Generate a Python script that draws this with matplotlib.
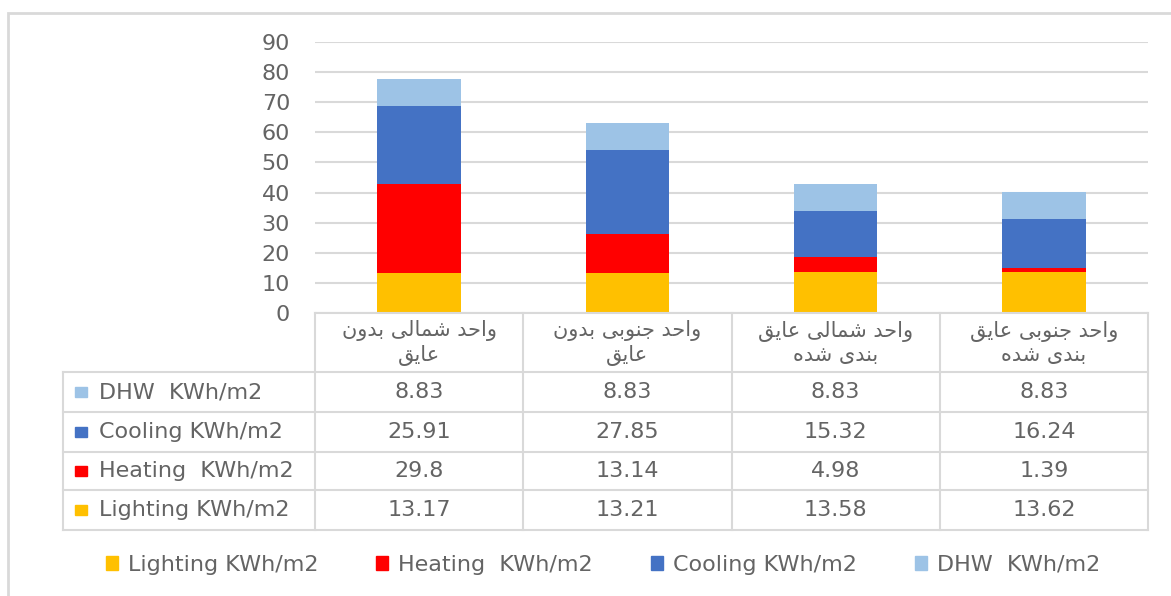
import matplotlib
matplotlib.use('Agg')
import matplotlib.pyplot as plt
from matplotlib.patches import Rectangle, Patch

# Energy use per unit (KWh/m2)
categories = ['واحد شمالی بدون\nعایق', 'واحد جنوبی بدون\nعایق',
              'واحد شمالی عایق\nبندی شده', 'واحد جنوبی عایق\nبندی شده']
series_names = ['Lighting KWh/m2', 'Heating  KWh/m2', 'Cooling KWh/m2', 'DHW  KWh/m2']
lighting = [13.17, 13.21, 13.58, 13.62]
heating = [29.8, 13.14, 4.98, 1.39]
cooling = [25.91, 27.85, 15.32, 16.24]
dhw = [8.83, 8.83, 8.83, 8.83]
colors = ['#FFC000', '#FF0000', '#4472C4', '#9DC3E6']

TEXT = '#646464'
GRID = '#d9d9d9'
FS = 16
plt.rcParams['font.family'] = ['DejaVu Sans']

# minimal arabic-script shaping: presentation forms + visual (reversed) order
FORMS = {
    'ا': ('\uFE8D', '\uFE8E'),
    'ب': ('\uFE8F', '\uFE90', '\uFE91', '\uFE92'),
    'ج': ('\uFE9D', '\uFE9E', '\uFE9F', '\uFEA0'),
    'ح': ('\uFEA1', '\uFEA2', '\uFEA3', '\uFEA4'),
    'د': ('\uFEA9', '\uFEAA'),
    'ش': ('\uFEB5', '\uFEB6', '\uFEB7', '\uFEB8'),
    'ع': ('\uFEC9', '\uFECA', '\uFECB', '\uFECC'),
    'ق': ('\uFED5', '\uFED6', '\uFED7', '\uFED8'),
    'ل': ('\uFEDD', '\uFEDE', '\uFEDF', '\uFEE0'),
    'م': ('\uFEE1', '\uFEE2', '\uFEE3', '\uFEE4'),
    'ن': ('\uFEE5', '\uFEE6', '\uFEE7', '\uFEE8'),
    'ه': ('\uFEE9', '\uFEEA', '\uFEEB', '\uFEEC'),
    'و': ('\uFEED', '\uFEEE'),
    'ی': ('\uFEEF', '\uFEF0', '\uFEF3', '\uFEF4'),
}


def shape_line(s):
    out = []
    for i, c in enumerate(s):
        f = FORMS.get(c)
        if f is None:
            out.append(c)
            continue
        prev = s[i - 1] if i > 0 else ''
        nxt = s[i + 1] if i + 1 < len(s) else ''
        pj = prev in FORMS and len(FORMS[prev]) == 4
        nj = nxt in FORMS and len(f) == 4
        if len(f) == 2:
            out.append(f[1] if pj else f[0])
        elif pj and nj:
            out.append(f[3])
        elif pj:
            out.append(f[1])
        elif nj:
            out.append(f[2])
        else:
            out.append(f[0])
    return ''.join(out)[::-1]


def shape(s):
    return '\n'.join(shape_line(l) for l in s.split('\n'))


W, H = 1171, 596
fig = plt.figure(figsize=(W / 100, H / 100), dpi=100)


def fx(px):
    return px / W


def fy(py):
    return 1 - py / H


# outer chart border
fig.add_artist(Rectangle((fx(8), -0.2), 2, fy(13) + 0.2, transform=fig.transFigure,
                         fill=False, edgecolor=GRID, lw=2))

x0, x1, y0, y1 = 315, 1148, 313, 42
ax = fig.add_axes([fx(x0), fy(y0), fx(x1 - x0), (y0 - y1) / H])
xs = [i + 0.5 for i in range(len(categories))]
bottom = [0] * len(categories)
for vals, col, name in zip([lighting, heating, cooling, dhw], colors, series_names):
    ax.bar(xs, vals, width=0.4, bottom=bottom, color=col, label=name, zorder=3)
    bottom = [b + v for b, v in zip(bottom, vals)]
ax.set_xlim(0, 4)
ax.set_ylim(0, 90)
ax.set_yticks(range(0, 91, 10))
ax.yaxis.grid(True, color=GRID, lw=1.5, zorder=0)
ax.set_xticks([])
ax.tick_params(axis='y', length=0, pad=18, labelsize=FS, labelcolor=TEXT)
for sp in ax.spines.values():
    sp.set_visible(False)

# data table under the plot
tl = 63
col_w = (x1 - x0) / 4
tax = fig.add_axes([fx(tl), fy(530), fx(x1 - tl), (530 - y0) / H])
tax.set_xlim(-(x0 - tl) / col_w, 4)
tax.set_ylim(530 - y0, 0)
tax.axis('off')
rows = [59, 99, 139, 177, 217]
lkw = dict(color=GRID, lw=1.5, clip_on=False)
left = -(x0 - tl) / col_w
for r in rows:
    tax.plot([left, 4], [r, r], **lkw)
tax.plot([0, 4], [0, 0], **lkw)
for c in range(5):
    tax.plot([c, c], [0, 217], **lkw)
tax.plot([left, left], [rows[0], 217], **lkw)

for i, cat in enumerate(categories):
    tax.text(i + 0.5, 30, shape(cat), ha='center', va='center', fontsize=15,
             color=TEXT, linespacing=1.2)

table_rows = [(series_names[3], dhw, colors[3]), (series_names[2], cooling, colors[2]),
              (series_names[1], heating, colors[1]), (series_names[0], lighting, colors[0])]
for k, (name, vals, col) in enumerate(table_rows):
    yc = (rows[k] + rows[k + 1]) / 2
    tax.add_patch(Rectangle((left + 12 / col_w, yc - 5), 12 / col_w, 10, color=col,
                            clip_on=False))
    tax.text(left + 36 / col_w, yc, name, ha='left', va='center', fontsize=FS, color=TEXT)
    for i, v in enumerate(vals):
        tax.text(i + 0.5, yc, f'{v:g}', ha='center', va='center', fontsize=FS, color=TEXT)

handles = [Patch(color=c) for c in colors]
fig.legend(handles, series_names, loc='center', bbox_to_anchor=(fx(603), fy(565)),
           ncol=4, frameon=False, fontsize=FS, handlelength=0.55, handleheight=0.55,
           handletextpad=0.45, columnspacing=2.6, labelcolor=TEXT)

fig.savefig('out.png', dpi=100)
